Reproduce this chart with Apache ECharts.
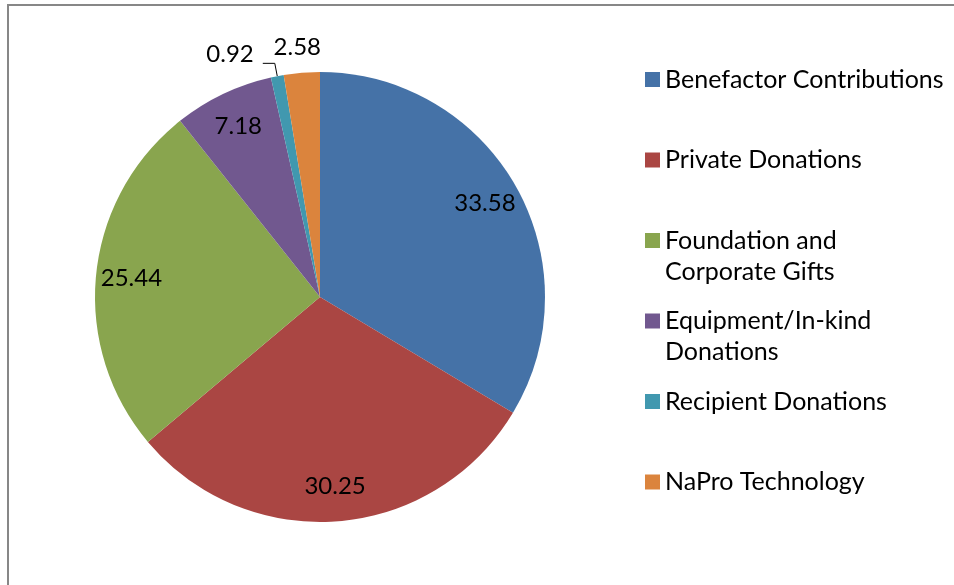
<!DOCTYPE html>
<html>
<head>
<meta charset="utf-8">
<script src="https://cdn.jsdelivr.net/npm/echarts@6/dist/echarts.min.js"></script>
<style>
  html, body { margin: 0; padding: 0; background: #fff; }
  #chart { width: 954px; height: 585px; }
</style>
</head>
<body>
<div id="chart"></div>
<script>
// categories and values
const categories = [
  "Benefactor Contributions",
  "Private Donations",
  "Foundation and\nCorporate Gifts",
  "Equipment/In-kind\nDonations",
  "Recipient Donations",
  "NaPro Technology"
];
const values = [33.58, 30.25, 25.44, 7.18, 0.92, 2.58];
const colors = ["#4572A7", "#AA4643", "#89A54E", "#71588F", "#4198AF", "#DB843D"];

const font = "Lato, 'Open Sans', sans-serif";
const legendSize = 25;
const labelSize = 24;
const lineH = 31;
const radius = 225;

// slices too small for an inside label get an outside one
const isSmall = function (v) { return v < 5; };

const chart = echarts.init(document.getElementById("chart"));

// one legend per entry so the markers stay evenly spaced;
// two-line names get a blank line on top so the marker sits on line one
const legends = categories.map(function (name, i) {
  const multi = name.indexOf("\n") >= 0;
  const centerY = 79.5 + 80.5 * i;
  return {
    data: [name],
    orient: "vertical",
    left: 645,
    top: multi ? centerY - lineH * 1.5 : centerY - lineH / 2,
    padding: 0,
    icon: "rect",
    itemWidth: 15,
    itemHeight: 15,
    selectedMode: false,
    formatter: function (n) { return multi ? " \n" + n : n; },
    textStyle: {
      fontFamily: font,
      fontSize: legendSize,
      color: "#000",
      lineHeight: lineH
    }
  };
});

const option = {
  animation: false,
  color: colors,
  legend: legends,
  graphic: [
    { type: "line", shape: { x1: 7, y1: 5, x2: 954, y2: 5 }, style: { stroke: "#878787", lineWidth: 2 }, silent: true },
    { type: "line", shape: { x1: 8, y1: 5, x2: 8, y2: 585 }, style: { stroke: "#878787", lineWidth: 2 }, silent: true }
  ],
  series: [
    {
      name: "main",
      type: "pie",
      center: [320, 297],
      radius: [0, radius],
      startAngle: 90,
      clockwise: true,
      avoidLabelOverlap: false,
      minShowLabelAngle: 0,
      silent: true,
      itemStyle: { borderWidth: 0 },
      label: {
        show: false,
        position: "outside",
        formatter: "{c}",
        fontFamily: font,
        fontSize: labelSize,
        color: "#000",
        distanceToLabelLine: 9
      },
      labelLine: {
        show: false,
        length: 13,
        length2: 12,
        lineStyle: { color: "#000", width: 1 }
      },
      labelLayout: function (params) {
        // nudges so the two small labels sit where the original has them
        if (params.dataIndex === 4) return { dy: -9 };
        if (params.dataIndex === 5) return { dx: 30, dy: -4 };
        return {};
      },
      data: categories.map(function (name, i) {
        const item = { name: name, value: values[i] };
        if (isSmall(values[i])) {
          item.label = { show: true };
          if (i === 4) {
            item.labelLine = { show: true };
          } else {
            item.labelLine = { show: false, length: 22, length2: 0 };
          }
        }
        return item;
      })
    },
    {
      // transparent ring that only carries the inside labels
      name: "labels",
      type: "pie",
      center: [320, 297],
      radius: [148, radius],
      startAngle: 90,
      clockwise: true,
      avoidLabelOverlap: false,
      silent: true,
      legendHoverLink: false,
      itemStyle: { color: "rgba(0,0,0,0)", borderWidth: 0 },
      label: {
        show: true,
        position: "inside",
        formatter: "{c}",
        fontFamily: font,
        fontSize: labelSize,
        color: "#000"
      },
      labelLine: { show: false },
      data: categories.map(function (name, i) {
        return {
          name: name,
          value: values[i],
          label: { show: !isSmall(values[i]) }
        };
      })
    }
  ]
};

chart.setOption(option);
</script>
</body>
</html>
